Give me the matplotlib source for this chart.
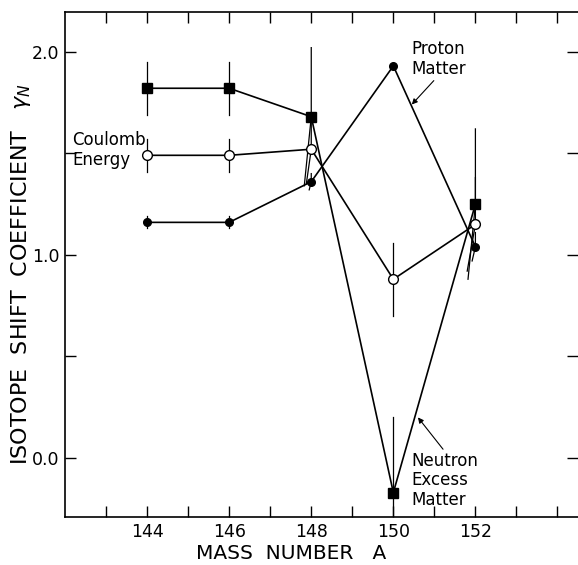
import matplotlib
matplotlib.use("Agg")
import matplotlib.pyplot as plt

# mass numbers and isotope shift coefficients
mass = [144, 146, 148, 150, 152]

coulomb = [1.49, 1.49, 1.52, 0.88, 1.15]
coulomb_err = [0.08, 0.08, 0.17, 0.18, 0.23]

proton = [1.16, 1.16, 1.36, 1.93, 1.04]
proton_err = [0.03, 0.03, 0.04, 0.0, 0.07]

neutron = [1.82, 1.82, 1.68, -0.17, 1.25]
neutron_err = [0.13, 0.13, 0.34, 0.37, 0.37]

# lower half of some bars is drawn leaning left in the original
coulomb_tilt = [0, 0, 0.12, 0, 0.2]
proton_tilt = [0, 0, 0.05, 0, 0.08]
neutron_tilt = [0, 0, 0.17, 0, 0.18]

xticks = [144, 146, 148, 150, 152]
yticks = [0.0, 1.0, 2.0]

plt.rcParams['font.family'] = ['DejaVu Sans']

fig = plt.figure(figsize=(5.78, 5.65), dpi=100)
ax = fig.add_axes([0.1125, 0.085, 0.8875, 0.894])


def bars(xs, ys, es, ts):
    for x, y, e, t in zip(xs, ys, es, ts):
        if e == 0:
            continue
        ax.plot([x, x, x - t], [y + e, y, y - e], color="black", lw=0.9, zorder=2)


bars(mass, neutron, neutron_err, neutron_tilt)
bars(mass, coulomb, coulomb_err, coulomb_tilt)
bars(mass, proton, proton_err, proton_tilt)

ax.plot(mass, neutron, color="black", lw=1.2, marker="s", ms=6.5,
        mfc="black", mec="black", zorder=3)
ax.plot(mass, proton, color="black", lw=1.2, marker="o", ms=5.5,
        mfc="black", mec="black", zorder=3)
ax.plot(mass, coulomb, color="black", lw=1.2, marker="o", ms=7,
        mfc="white", mec="black", mew=1.0, zorder=4)

ax.text(142.17, 1.515, "Coulomb\nEnergy", fontsize=12, ha="left", va="center",
        linespacing=1.15)
ax.annotate("Proton\nMatter", xy=(150.45, 1.74), xytext=(150.45, 1.965),
            fontsize=12, ha="left", va="center", linespacing=1.15,
            arrowprops=dict(arrowstyle="-|>", color="black", lw=0.8,
                            mutation_scale=8, shrinkA=0, shrinkB=0,
                            relpos=(0.45, 0.0)))
ax.annotate("Neutron\nExcess\nMatter", xy=(150.6, 0.2), xytext=(150.45, -0.11),
            fontsize=12, ha="left", va="center", linespacing=1.1,
            arrowprops=dict(arrowstyle="-|>", color="black", lw=0.8,
                            mutation_scale=8, shrinkA=0, shrinkB=0,
                            relpos=(0.5, 1.0)))

ax.set_xlim(142, 154.5)
ax.set_ylim(-0.29, 2.196)

ax.set_xticks(range(143, 155), minor=True)
ax.set_xticks(xticks)
ax.set_xticklabels([str(v) for v in xticks])
ax.set_yticks([0.5, 1.5], minor=True)
ax.set_yticks(yticks)
ax.set_yticklabels(["%.1f" % v for v in yticks])

ax.tick_params(which="both", direction="in", top=True, right=True,
               length=8, width=1, labelsize=12.5, pad=4)
ax.tick_params(which="minor", length=8)
ax.spines["right"].set_visible(False)
for s in ["left", "top", "bottom"]:
    ax.spines[s].set_linewidth(1.2)

fig.text(0.503, 0.02, "MASS  NUMBER   A", fontsize=14.5, ha="center", va="center")
fig.text(0.036, 0.515, r"ISOTOPE  SHIFT  COEFFICIENT   $\gamma_N$", fontsize=16,
         rotation=90, ha="center", va="center")

fig.savefig("out.png", dpi=100)
